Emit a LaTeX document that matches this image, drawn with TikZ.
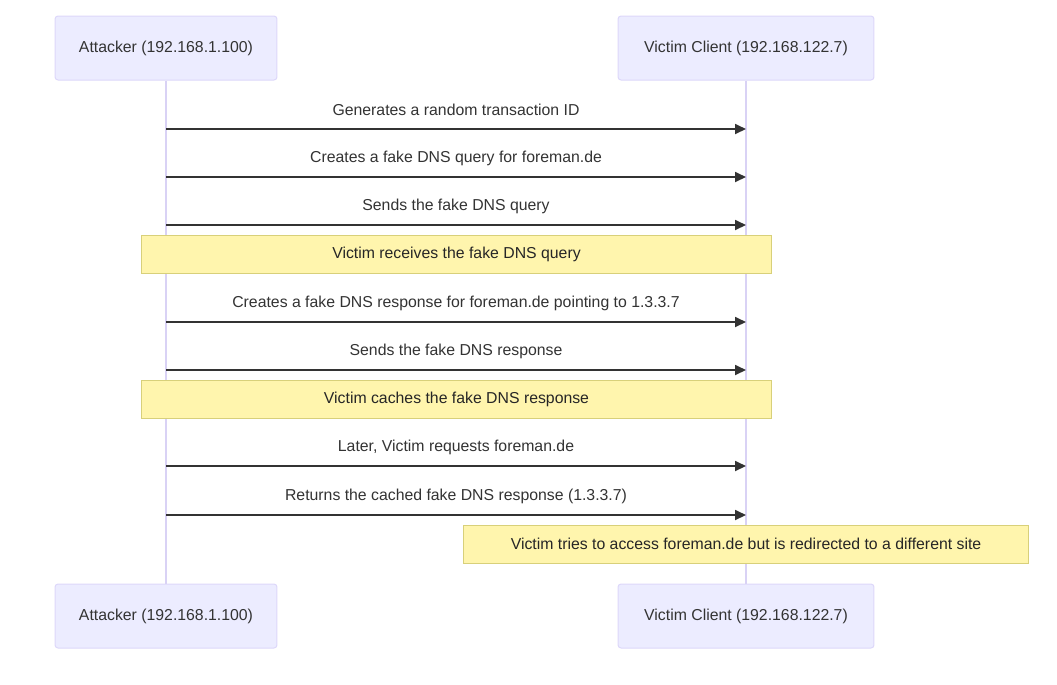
\documentclass[tikz,border=0pt]{standalone}
\usepackage{fontspec}
\setmainfont{Liberation Sans}
\usetikzlibrary{arrows.meta}
\definecolor{actorfill}{HTML}{ECECFF}
\definecolor{actorline}{HTML}{DDD8FA}
\definecolor{lifeline}{HTML}{D9D2F5}
\definecolor{notefill}{HTML}{FFF5AD}
\definecolor{noteline}{HTML}{D8D07A}
\definecolor{msgcol}{HTML}{333333}

\tikzset{
	actor/.style={draw=actorline, fill=actorfill, rounded corners=0.06cm, line width=0.02cm, minimum height=1.28cm, inner sep=0pt, text=msgcol, font=\fontsize{9}{11}\selectfont},
	note/.style={draw=noteline, fill=notefill, line width=0.02cm, minimum height=0.76cm, inner sep=0pt, text=black!85, font=\fontsize{9}{11}\selectfont},
	msglabel/.style={text=msgcol, inner sep=0pt, font=\fontsize{9}{11}\selectfont},
	msgarrow/.style={draw=msgcol, line width=0.035cm, -{Triangle[length=0.22cm, width=0.2cm]}}
}

\begin{document}
\begin{tikzpicture}[x=0.02cm, y=-0.02cm]
		%%%%% START %%%%%
		
		\useasboundingbox[fill=white] (0, 0) rectangle (1057, 684);
		
		\node[actor, minimum width=4.44cm] (attTop) at (166, 48) {Attacker (192.168.1.100)};
		\node[actor, minimum width=5.12cm] (vicTop) at (746, 48) {Victim Client (192.168.122.7)};
		\node[actor, minimum width=4.44cm] (attBot) at (166, 616) {Attacker (192.168.1.100)};
		\node[actor, minimum width=5.12cm] (vicBot) at (746, 616) {Victim Client (192.168.122.7)};
		
		\draw[lifeline, line width=0.03cm] (attTop.south) -- (attBot.north);
		\draw[lifeline, line width=0.03cm] (vicTop.south) -- (vicBot.north);
		
		%%%%% MESSAGES %%%%%
		\foreach \y/\n/\txt in {129/m1/Generates a random transaction ID,
			177/m2/Creates a fake DNS query for foreman.de,
			225/m3/Sends the fake DNS query,
			322/m4/Creates a fake DNS response for foreman.de pointing to 1.3.3.7,
			370/m5/Sends the fake DNS response,
			466/m6/{Later, Victim requests foreman.de},
			515/m7/Returns the cached fake DNS response (1.3.3.7)} {
			\coordinate (\n a) at (166, \y);
			\coordinate (\n v) at (746, \y);
			\node[msglabel] (\n lbl) at (456, \y-19) {\txt};
			\draw[msgarrow] (\n a) -- (\n v);
		}
		
		%%%%% NOTES %%%%%
		\node[note, minimum width=12.62cm] (n1) at (456.5, 254) {Victim receives the fake DNS query};
		\node[note, minimum width=12.62cm] (n2) at (456.5, 399) {Victim caches the fake DNS response};
		\node[note, minimum width=11.32cm] (n3) at (746, 544) {Victim tries to access foreman.de but is redirected to a different site};
		
		%%%%% END %%%%%
	\end{tikzpicture}
\end{document}
